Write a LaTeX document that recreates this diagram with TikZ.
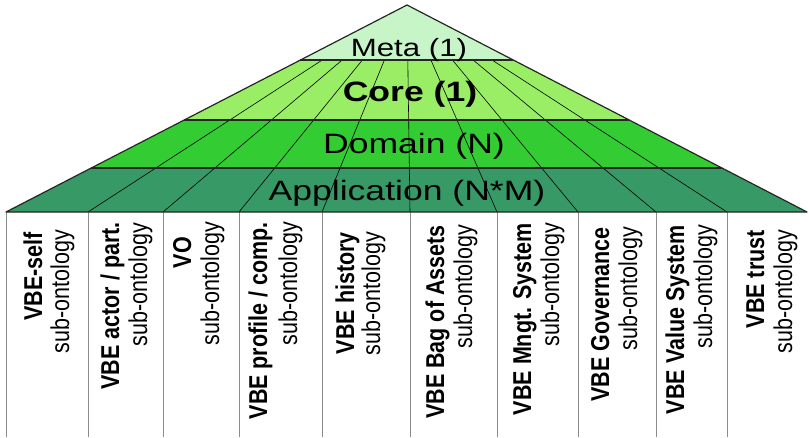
\documentclass[tikz,border=0pt]{standalone}
\usepackage{fontspec}
\setmainfont{Liberation Sans}
\usetikzlibrary{calc}

\definecolor{metagreen}{HTML}{C8F5C8}
\definecolor{coregreen}{HTML}{99EE66}
\definecolor{domaingreen}{HTML}{33CC33}
\definecolor{appgreen}{HTML}{369966}
\definecolor{outline}{HTML}{262626}
\definecolor{divider}{HTML}{8C8C8C}

\begin{document}
\begin{tikzpicture}[x=1pt,y=-1pt,
  layer/.style={font=\fontsize{28}{28}\selectfont, xscale=1.27, inner sep=0pt, anchor=base},
  toplayer/.style={font=\fontsize{25}{25}\selectfont, xscale=1.25, inner sep=0pt, anchor=base},
  ray/.style={black, line width=0.6pt},
  border/.style={outline, line width=1.2pt, line join=round},
  colline/.style={divider, line width=1pt},
  colhead/.style={font=\fontsize{21.5}{21.5}\selectfont\bfseries, xscale=1.2, rotate=90, anchor=base east, inner sep=0pt},
  colsub/.style={font=\fontsize{21.5}{21.5}\selectfont, xscale=1.2, rotate=90, anchor=base east, inner sep=0pt}]

\useasboundingbox (0,0) rectangle (809,437);
\fill[white] (0,0) rectangle (809,437);

% pyramid outline points
\coordinate (apex) at (407,5);
\coordinate (bl) at (6,212);
\coordinate (br) at (807,212);
\coordinate (l60)  at ($(apex)!0.2657!(bl)$);
\coordinate (r60)  at ($(apex)!0.2657!(br)$);
\coordinate (l120) at ($(apex)!0.5556!(bl)$);
\coordinate (r120) at ($(apex)!0.5556!(br)$);
\coordinate (l168) at ($(apex)!0.7874!(bl)$);
\coordinate (r168) at ($(apex)!0.7874!(br)$);

% layer fills
\fill[metagreen]   (apex) -- (r60) -- (l60) -- cycle;
\fill[coregreen]   (l60) -- (r60) -- (r120) -- (l120) -- cycle;
\fill[domaingreen] (l120) -- (r120) -- (r168) -- (l168) -- cycle;
\fill[appgreen]    (l168) -- (r168) -- (br) -- (bl) -- cycle;

% column boundaries, with rays running up toward the apex
\foreach \i/\x in {1/88,2/163,3/239,4/322,5/410,6/497,7/578,8/656,9/727} {
  \coordinate (b\i) at (\x,212);
  \coordinate (f\i) at (\x,437);
  \draw[ray] (b\i) -- ($(b\i)!0.7343!(apex)$);
  \draw[colline] (b\i) -- (f\i);
}
\coordinate (f0) at (6,437);
\draw[colline] (bl) -- (f0);

% layer borders
\draw[border] (apex) -- (br) -- (bl) -- cycle;
\draw[border] (l60) -- (r60);
\draw[border] (l120) -- (r120);
\draw[border] (l168) -- (r168);

% layer labels
\node[toplayer] (meta) at (409,56) {Meta (1)};
\node[layer, font=\fontsize{28}{28}\selectfont\bfseries] (core) at (410,101) {Core (1)};
\node[layer] (domain) at (414,153) {Domain (N)};
\node[layer] (application) at (407,200) {Application (N*M)};

% sub-ontology columns
\node[colhead] (h1)  at (42,232)  {VBE-self};
\node[colsub]  (s1)  at (69,230)  {sub-ontology};
\node[colhead] (h2)  at (119,222) {VBE actor / part.};
\node[colsub]  (s2)  at (147,223) {sub-ontology};
\node[colhead] (h3)  at (191,237) {VO};
\node[colsub]  (s3)  at (219,222) {sub-ontology};
\node[colhead] (h4)  at (267,222) {VBE profile / comp.};
\node[colsub]  (s4)  at (297,222) {sub-ontology};
\node[colhead] (h5)  at (354,232) {VBE history};
\node[colsub]  (s5)  at (380,232) {sub-ontology};
\node[colhead] (h6)  at (444,225) {VBE Bag of Assets};
\node[colsub]  (s6)  at (472,225) {sub-ontology};
\node[colhead] (h7)  at (531,223) {VBE Mngt. System};
\node[colsub]  (s7)  at (559,223) {sub-ontology};
\node[colhead] (h8)  at (609,227) {VBE Governance};
\node[colsub]  (s8)  at (637,227) {sub-ontology};
\node[colhead] (h9)  at (684,225) {VBE Value System};
\node[colsub]  (s9)  at (712,225) {sub-ontology};
\node[colhead] (h10) at (764,230) {VBE trust};
\node[colsub]  (s10) at (792,230) {sub-ontology};
\end{tikzpicture}
\end{document}
